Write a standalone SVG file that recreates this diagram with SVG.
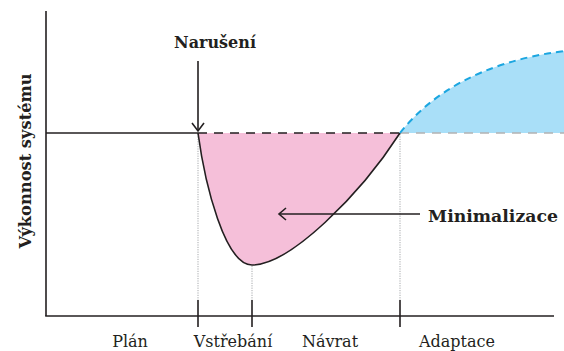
<svg xmlns="http://www.w3.org/2000/svg" width="564" height="351" viewBox="0 0 564 351">
<style>
.ax{stroke:#231f20;stroke-width:1.6;fill:none}
.dot{stroke:#a7a9ac;stroke-width:1;stroke-dasharray:1.2 1.2;fill:none}
.lbl{font-family:"DejaVu Serif","Liberation Serif",serif;font-size:16px;fill:#231f20}
.b{font-weight:bold}
</style>
<rect width="564" height="351" fill="#ffffff"/>
<g id="areas">
<path id="minimization" d="M198,133 C205,185 225,265 252,265 C290,265 360,195 400,133 Z" fill="#f5bfd9"/>
<path id="adaptation" d="M400,133 C430,95 480,62 564,51 L564,133 Z" fill="#a9dff8"/>
</g>
<g id="guides">
<line class="dot" x1="198" y1="134" x2="198" y2="300"/>
<line class="dot" x1="252" y1="266" x2="252" y2="300"/>
<line class="dot" x1="400" y1="134" x2="400" y2="300"/>
</g>
<g id="axes">
<line class="ax" x1="46" y1="11" x2="46" y2="316"/>
<line class="ax" x1="45.2" y1="316" x2="554" y2="316"/>
<line class="ax" x1="198" y1="300" x2="198" y2="327"/>
<line class="ax" x1="252" y1="300" x2="252" y2="327"/>
<line class="ax" x1="400" y1="300" x2="400" y2="327"/>
</g>
<g id="connectors">
<line class="ax" x1="46" y1="133" x2="198" y2="133"/>
<line x1="198" y1="133" x2="400" y2="133" stroke="#231f20" stroke-width="1.6" stroke-dasharray="9 7"/>
<line x1="400" y1="133" x2="564" y2="133" stroke="#b3b3b3" stroke-width="1.6" stroke-dasharray="9 7"/>
<path class="ax" d="M198,133 C205,185 225,265 252,265 C290,265 360,195 400,133"/>
<path d="M400,133 C430,95 480,62 564,51" fill="none" stroke="#1ba6e0" stroke-width="2" stroke-dasharray="7 5"/>
<line class="ax" x1="198" y1="61" x2="198" y2="131"/>
<polyline class="ax" points="192,123 198,131 204,123"/>
<line class="ax" x1="420" y1="214" x2="280" y2="214"/>
<polyline class="ax" points="286,208 279,214 286,220"/>
</g>
<g id="labels">
<text class="lbl b" x="215" y="48" text-anchor="middle">Narušení</text>
<text class="lbl b" x="428" y="222" style="font-size:17.3px">Minimalizace</text>
<text class="lbl b" transform="translate(31,161) rotate(-90)" text-anchor="middle" style="font-size:16.3px">Výkonnost systému</text>
<text class="lbl" x="130" y="347" text-anchor="middle">Plán</text>
<text class="lbl" x="233" y="347" text-anchor="middle">Vstřebání</text>
<text class="lbl" x="330" y="347" text-anchor="middle">Návrat</text>
<text class="lbl" x="457" y="347" text-anchor="middle">Adaptace</text>
</g>
</svg>
